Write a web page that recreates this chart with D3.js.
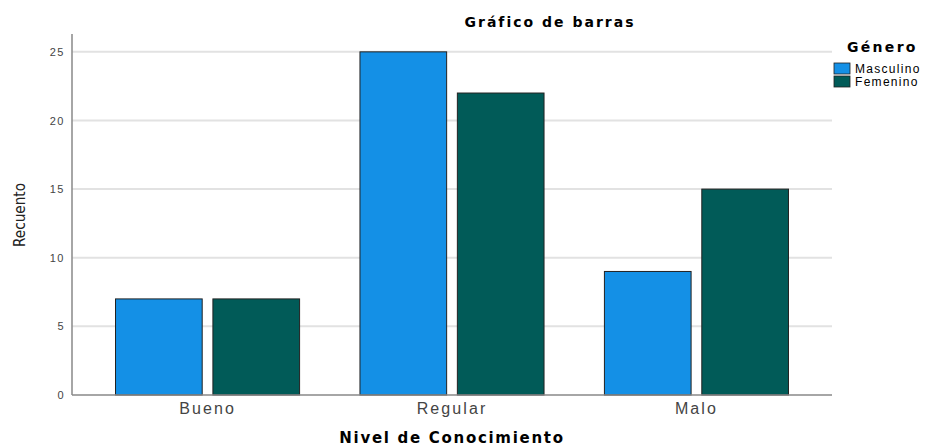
<!DOCTYPE html>
<html lang="es">
<head>
  <meta charset="UTF-8">
  <title>Gráfico de barras</title>
  <script src="https://d3js.org/d3.v7.min.js"></script>
  <style>
    body { margin: 0; background: #fff; font-family: "Liberation Sans", Arial, sans-serif; }
    .grid line { stroke: #e2e2e2; stroke-width: 2; }
    .bar { stroke: #222; stroke-width: 1; }
    .bold { font-family: "DejaVu Sans", Verdana, sans-serif; font-weight: bold; }
  </style>
</head>
<body>
  <script>
    // Data
    const categories = ["Bueno", "Regular", "Malo"];
    const series = ["Masculino", "Femenino"];
    const masculino = [7, 25, 9];
    const femenino = [7, 22, 15];
    const yTicks = [0, 5, 10, 15, 20, 25];
    const colors = ["#1490e6", "#015b58"];

    const width = 932, height = 446;
    const plot = { left: 72, right: 832, top: 34, bottom: 395 };

    const svg = d3.select("body").append("svg")
      .attr("width", width)
      .attr("height", height);

    const y = d3.scaleLinear().domain([0, 26.3]).range([plot.bottom, plot.top]);
    const x = d3.scaleBand().domain(categories).range([plot.left, plot.right])
      .paddingInner(0.247).paddingOuter(0.178);
    const xs = d3.scaleBand().domain(series).range([0, x.bandwidth()]).paddingInner(0.11);
    const color = d3.scaleOrdinal().domain(series).range(colors);

    // Gridlines
    svg.append("g").attr("class", "grid")
      .selectAll("line")
      .data(yTicks.filter(d => d > 0))
      .enter().append("line")
      .attr("x1", plot.left).attr("x2", plot.right)
      .attr("y1", d => y(d)).attr("y2", d => y(d));

    // Bars
    const rows = categories.map((c, i) => ({ cat: c, values: [masculino[i], femenino[i]] }));
    svg.append("g").selectAll("g")
      .data(rows)
      .enter().append("g")
      .attr("transform", d => `translate(${x(d.cat)},0)`)
      .selectAll("rect")
      .data(d => d.values.map((v, j) => ({ key: series[j], value: v })))
      .enter().append("rect")
      .attr("class", "bar")
      .attr("x", d => xs(d.key))
      .attr("y", d => y(d.value))
      .attr("width", xs.bandwidth())
      .attr("height", d => y(0) - y(d.value))
      .attr("fill", d => color(d.key));

    // Y axis
    const yAxis = svg.append("g")
      .attr("transform", `translate(${plot.left},0)`)
      .call(d3.axisLeft(y).tickValues(yTicks).tickSize(0).tickPadding(7));
    yAxis.select(".domain").attr("d", `M0,${plot.top}V${plot.bottom}`).attr("stroke", "#888").attr("stroke-width", 1.5);
    yAxis.selectAll("text").attr("font-size", 11).attr("fill", "#444")
      .attr("letter-spacing", 1.5)
      .attr("font-family", "Liberation Sans, Arial, sans-serif");

    // X axis
    const xAxis = svg.append("g")
      .attr("transform", `translate(0,${plot.bottom})`)
      .call(d3.axisBottom(x).tickSize(0).tickPadding(8));
    xAxis.select(".domain").attr("d", `M${plot.left},0H${plot.right}`).attr("stroke", "#888").attr("stroke-width", 1.5);
    xAxis.selectAll("text").attr("font-size", 16).attr("fill", "#444")
      .attr("letter-spacing", 2.1)
      .attr("font-family", "Liberation Sans, Arial, sans-serif");

    // Titles
    svg.append("text")
      .attr("class", "bold")
      .attr("x", 550).attr("y", 27)
      .attr("text-anchor", "middle")
      .attr("font-size", 14)
      .attr("letter-spacing", 2)
      .text("Gráfico de barras");

    svg.append("text")
      .attr("class", "bold")
      .attr("x", 452).attr("y", 443)
      .attr("text-anchor", "middle")
      .attr("font-size", 15)
      .attr("letter-spacing", 1.7)
      .text("Nivel de Conocimiento");

    svg.append("text")
      .attr("transform", "translate(25,215) rotate(-90)")
      .attr("text-anchor", "middle")
      .attr("font-size", 15)
      .attr("fill", "#222")
      .attr("font-family", "Liberation Sans Narrow, DejaVu Sans Condensed, sans-serif")
      .attr("textLength", 64).attr("lengthAdjust", "spacingAndGlyphs")
      .text("Recuento");

    // Legend
    const legend = svg.append("g").attr("transform", "translate(834,0)");
    legend.append("text")
      .attr("class", "bold")
      .attr("x", 13).attr("y", 52)
      .attr("font-size", 14)
      .attr("letter-spacing", 2.3)
      .text("Género");
    const item = legend.selectAll("g.item")
      .data(series)
      .enter().append("g")
      .attr("class", "item")
      .attr("transform", (d, i) => `translate(0,${63 + i * 13})`);
    item.append("rect")
      .attr("width", 16).attr("height", 11)
      .attr("fill", d => color(d))
      .attr("stroke", "#222").attr("stroke-width", 0.8);
    item.append("text")
      .attr("x", 21).attr("y", 10)
      .attr("font-size", 12)
      .attr("letter-spacing", 1.3)
      .text(d => d);
  </script>
</body>
</html>
